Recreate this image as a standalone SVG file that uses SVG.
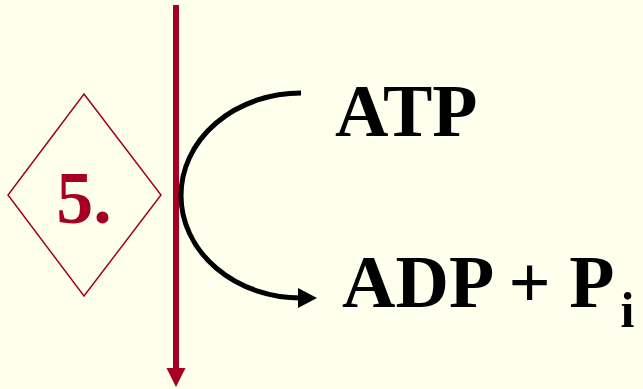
<svg xmlns="http://www.w3.org/2000/svg" width="643" height="389" viewBox="0 0 643 389">
<style>
.t{font-family:"Liberation Serif","Times New Roman",serif;font-weight:bold;fill:#000}
</style>
<defs>
<marker id="ah" markerUnits="userSpaceOnUse" markerWidth="24" markerHeight="24" refX="3" refY="10" orient="auto">
<path d="M0,0 L19,10 L0,20 Z" fill="#000"/>
</marker>
</defs>
<rect width="643" height="389" fill="#FFFFEE"/>
<g id="membrane">
<line x1="176" y1="5" x2="176" y2="370" stroke="#A50021" stroke-width="6"/>
<path d="M166.5,368 L185.5,368 L176,387 Z" fill="#A50021"/>
</g>
<g id="step5">
<path d="M84,94 L161,195 L84,296 L8,195 Z" fill="none" stroke="#A50021" stroke-width="1.5"/>
<text x="84" y="223" font-size="74" text-anchor="middle" class="t" style="fill:#A50021">5.</text>
</g>
<g id="connectors">
<path d="M301,93 A120 102.5 0 0 0 301,298" fill="none" stroke="#000" stroke-width="5" marker-end="url(#ah)"/>
</g>
<g id="atp">
<text x="335" y="136" font-size="74" class="t">ATP</text>
</g>
<g id="adp">
<text x="342" y="307" font-size="74" class="t">ADP + P<tspan font-size="50" dx="6" dy="20">i</tspan></text>
</g>
</svg>
